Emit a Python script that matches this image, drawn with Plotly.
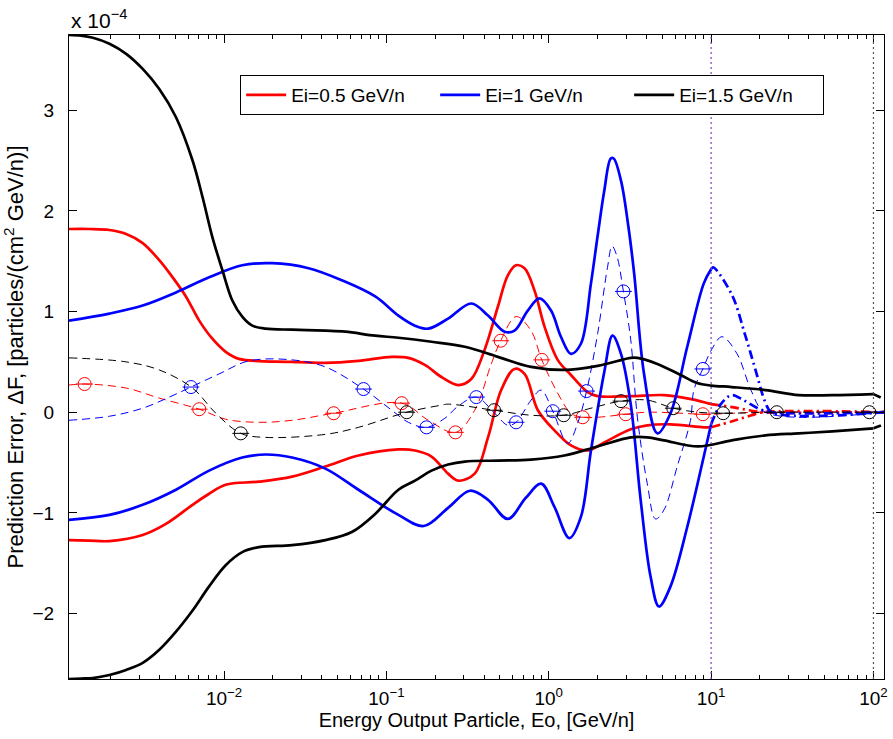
import plotly.graph_objects as go

# ---------------- data ----------------
# x values are log10(Eo [GeV/n]); y values are in units of 1e-4
bk_up_lg = [-2.955, -2.880, -2.808, -2.706, -2.603, -2.501, -2.399, -2.296, -2.194, -2.133, -2.072, -2.010, -1.949,
            -1.888, -1.826, -1.744, -1.581, -1.376, -1.253, -1.069, -0.926, -0.722, -0.517, -0.313, -0.109,
            0.096, 0.301, 0.505, 0.546, 0.669, 0.812, 0.914, 1.0, 1.127, 1.334, 1.540, 1.747, 2.0]
bk_up_y = [3.747, 3.74, 3.72, 3.66, 3.56, 3.41, 3.21, 2.93, 2.50, 2.14, 1.74, 1.41, 1.11,
           0.95, 0.86, 0.83, 0.82, 0.81, 0.80, 0.76, 0.74, 0.70, 0.65, 0.55, 0.45,
           0.42, 0.46, 0.54, 0.54, 0.48, 0.37, 0.29, 0.265, 0.25, 0.22, 0.17, 0.17, 0.18]
bk_up_ext_lg = [2.0, 2.065]
bk_up_ext_y = [0.18, 0.13]

bk_lo_lg = [-2.955, -2.880, -2.808, -2.706, -2.603, -2.501, -2.399, -2.296, -2.194, -2.092, -1.990, -1.888, -1.785,
            -1.581, -1.376, -1.213, -1.069, -0.926, -0.824, -0.722, -0.620, -0.517, -0.313, -0.109, 0.096,
            0.301, 0.505, 0.607, 0.710, 0.920, 1.127, 1.334, 1.540, 1.747, 2.0]
bk_lo_y = [-2.65, -2.645, -2.64, -2.61, -2.56, -2.49, -2.36, -2.18, -1.97, -1.73, -1.52, -1.39, -1.34,
           -1.32, -1.27, -1.19, -1.01, -0.77, -0.68, -0.58, -0.52, -0.49, -0.48, -0.47, -0.43,
           -0.34, -0.25, -0.25, -0.28, -0.34, -0.28, -0.23, -0.21, -0.19, -0.16]
bk_lo_ext_lg = [2.0, 2.065]
bk_lo_ext_y = [-0.16, -0.12]

rd_up_lg = [-2.955, -2.830, -2.706, -2.603, -2.501, -2.399, -2.317, -2.235, -2.153, -2.072, -1.990, -1.908, -1.581,
            -1.376, -1.172, -0.967, -0.865, -0.763, -0.661, -0.558, -0.477, -0.395, -0.313, -0.252, -0.201,
            -0.149, -0.088, -0.026, 0.055, 0.137, 0.239, 0.301, 0.505, 0.710, 0.877, 1.0]
rd_up_y = [1.82, 1.82, 1.81, 1.77, 1.68, 1.51, 1.34, 1.15, 0.91, 0.73, 0.60, 0.53, 0.50,
           0.49, 0.51, 0.55, 0.54, 0.47, 0.35, 0.27, 0.33, 0.62, 1.05, 1.36, 1.46,
           1.43, 1.21, 0.85, 0.52, 0.37, 0.20, 0.16, 0.16, 0.17, 0.13, 0.08]
rd_up_ext_lg = [1.0, 1.13, 1.25, 1.32, 2.065]
rd_up_ext_y = [0.08, 0.05, 0.015, 0.0, 0.0]

rd_lo_lg = [-2.955, -2.830, -2.706, -2.501, -2.358, -2.194, -2.092, -1.990, -1.785, -1.581, -1.376, -1.172, -0.926,
            -0.824, -0.722, -0.620, -0.558, -0.456, -0.374, -0.293, -0.211, -0.149, -0.067, 0.035, 0.137,
            0.239, 0.342, 0.505, 0.607, 0.750, 0.955, 1.0]
rd_lo_y = [-1.27, -1.275, -1.28, -1.22, -1.11, -0.92, -0.81, -0.72, -0.69, -0.64, -0.54, -0.43, -0.37,
           -0.38, -0.44, -0.61, -0.68, -0.61, -0.25, 0.22, 0.43, 0.38, 0.02, -0.18, -0.33,
           -0.38, -0.30, -0.17, -0.13, -0.12, -0.15, -0.15]
rd_lo_ext_lg = [1.0, 1.13, 1.25, 1.32, 2.065]
rd_lo_ext_y = [-0.15, -0.09, -0.03, 0.0, 0.0]

rd_mid_lg = [-2.955, -2.859, -2.603, -2.399, -2.153, -1.990, -1.785, -1.581, -1.325, -0.906, -0.742, -0.575,
             -0.456, -0.354, -0.296, -0.201, -0.109, -0.043, 0.055, 0.137, 0.209, 0.301, 0.474, 0.607,
             0.949, 1.0, 1.13, 1.30, 2.065]
rd_mid_y = [0.27, 0.28, 0.24, 0.14, 0.03, -0.07, -0.10, -0.08, -0.01, 0.09, -0.08, -0.20,
            0.02, 0.48, 0.71, 0.95, 0.81, 0.52, 0.19, -0.01, -0.05, -0.05, -0.02, 0.0,
            -0.02, -0.02, -0.01, 0.0, 0.0]
rd_mk_lg = [-2.859, -2.153, -1.325, -0.906, -0.575, -0.296, -0.043, 0.209, 0.474, 0.949]
rd_mk_y = [0.28, 0.03, -0.01, 0.09, -0.20, 0.71, 0.52, -0.05, -0.02, -0.02]

bl_up_lg = [-2.955, -2.706, -2.501, -2.296, -2.092, -1.888, -1.704, -1.479, -1.274, -1.069, -0.926, -0.824,
            -0.742, -0.620, -0.477, -0.374, -0.272, -0.211, -0.129, -0.057, 0.014, 0.075, 0.137, 0.198,
            0.260, 0.301, 0.342, 0.382, 0.400, 0.445, 0.490, 0.526, 0.587, 0.669, 0.750, 0.853, 0.955, 1.0]
bl_up_y = [0.91, 0.98, 1.06, 1.19, 1.34, 1.46, 1.48, 1.43, 1.31, 1.15, 0.96, 0.86,
           0.83, 0.93, 1.08, 0.96, 0.80, 0.81, 1.01, 1.13, 1.01, 0.75, 0.58, 0.68,
           1.28, 1.75, 2.20, 2.52, 2.52, 2.30, 1.85, 1.38, 0.38, -0.21, -0.01, 0.65, 1.28, 1.42]
bl_up_ext_lg = [1.0, 1.012, 1.127, 1.209, 1.270, 1.334, 1.374, 2.065]
bl_up_ext_y = [1.42, 1.44, 1.17, 0.77, 0.44, 0.10, 0.0, 0.0]

bl_lo_lg = [-2.955, -2.706, -2.501, -2.296, -2.092, -1.888, -1.744, -1.581, -1.376, -1.172, -0.926, -0.770,
            -0.620, -0.485, -0.374, -0.252, -0.141, -0.047, 0.035, 0.127, 0.198, 0.260, 0.342, 0.393,
            0.445, 0.505, 0.566, 0.628, 0.679, 0.750, 0.853, 0.955, 1.0]
bl_lo_y = [-1.07, -1.02, -0.92, -0.77, -0.58, -0.45, -0.42, -0.45, -0.56, -0.77, -1.02, -1.13,
           -0.95, -0.78, -0.87, -1.06, -0.85, -0.71, -0.94, -1.25, -1.04, -0.38, 0.40, 0.76,
           0.58, 0.08, -0.87, -1.64, -1.93, -1.73, -1.14, -0.44, -0.12]
bl_lo_ext_lg = [1.0, 1.06, 1.127, 1.20, 1.30, 1.374, 2.065]
bl_lo_ext_y = [-0.12, 0.08, 0.17, 0.12, 0.03, 0.0, 0.0]

bl_mid_lg = [-2.955, -2.706, -2.501, -2.337, -2.204, -2.031, -1.847, -1.581, -1.376, -1.141, -0.967, -0.865,
             -0.753, -0.640, -0.558, -0.446, -0.333, -0.252, -0.201, -0.109, -0.047, 0.025, 0.117, 0.178,
             0.233, 0.301, 0.362, 0.390, 0.420, 0.460, 0.505, 0.546, 0.607, 0.658, 0.710, 0.791, 0.873,
             0.894, 0.949, 1.006, 1.067, 1.160, 1.251, 1.334, 2.065]
bl_mid_y = [-0.08, -0.04, 0.04, 0.15, 0.25, 0.38, 0.51, 0.52, 0.45, 0.23, 0.02, -0.10,
            -0.15, -0.06, 0.06, 0.15, -0.01, -0.13, -0.10, 0.12, 0.22, 0.01, -0.31, -0.11,
            0.21, 0.78, 1.44, 1.65, 1.55, 1.20, 0.72, -0.05, -0.71, -1.06, -0.97, -0.54, -0.08,
            0.22, 0.43, 0.63, 0.75, 0.58, 0.20, 0.0, 0.0]
bl_mk_lg = [-2.204, -1.141, -0.753, -0.446, -0.201, 0.025, 0.233, 0.460, 0.949]
bl_mk_y = [0.25, 0.23, -0.15, 0.15, -0.10, 0.01, 0.21, 1.20, 0.43]

bk_mid_lg = [-2.955, -2.603, -2.399, -2.194, -2.051, -1.897, -1.744, -1.376, -1.172, -0.875, -0.661, -0.620,
             -0.337, -0.109, 0.092, 0.260, 0.445, 0.607, 0.767, 0.920, 1.074, 1.405, 1.975, 2.065]
bk_mid_y = [0.54, 0.50, 0.42, 0.24, -0.01, -0.21, -0.25, -0.22, -0.15, 0.00, 0.07, 0.08,
            0.02, -0.03, -0.03, 0.04, 0.11, 0.12, 0.04, 0.0, -0.01, 0.0, 0.0, 0.0]
bk_mk_lg = [-1.897, -0.875, -0.337, 0.092, 0.445, 0.767, 1.074, 1.405, 1.975]
bk_mk_y = [-0.21, 0.0, 0.02, -0.03, 0.11, 0.04, -0.01, 0.0, 0.0]

legend_names = ["Ei=0.5 GeV/n", "Ei=1 GeV/n", "Ei=1.5 GeV/n"]
x_tick_vals = [0.01, 0.1, 1, 10, 100]
x_tick_text = ["10<sup>\u22122</sup>", "10<sup>\u22121</sup>", "10<sup>0</sup>", "10<sup>1</sup>", "10<sup>2</sup>"]
y_tick_vals = [-2, -1, 0, 1, 2, 3]
y_tick_text = ["\u22122", "\u22121", "0", "1", "2", "3"]
vlines = [10, 100]

# ---------------- figure ----------------
def E(lg):
    return [10 ** v for v in lg]

RED, BLUE, BLACK = "#ff0000", "#0000ff", "#000000"
SOLID_W = 2.7
SM = 1.0
fig = go.Figure()

def add_group(color, name, up_lg, up_y, lo_lg, lo_y, upx_lg, upx_y, lox_lg, lox_y,
              mid_lg, mid_y, mk_lg, mk_y, ext_dash):
    fig.add_trace(go.Scatter(x=E(mid_lg), y=mid_y, mode="lines", showlegend=False,
                             line=dict(color=color, width=1, dash="8px,5px", shape="spline", smoothing=SM)))
    fig.add_trace(go.Scatter(x=E(upx_lg), y=upx_y, mode="lines", showlegend=False,
                             line=dict(color=color, width=SOLID_W, dash=ext_dash, shape="spline", smoothing=SM)))
    fig.add_trace(go.Scatter(x=E(lox_lg), y=lox_y, mode="lines", showlegend=False,
                             line=dict(color=color, width=SOLID_W, dash=ext_dash, shape="spline", smoothing=SM)))
    fig.add_trace(go.Scatter(x=E(up_lg), y=up_y, mode="lines", name=name, showlegend=True,
                             line=dict(color=color, width=SOLID_W, shape="spline", smoothing=SM)))
    fig.add_trace(go.Scatter(x=E(lo_lg), y=lo_y, mode="lines", showlegend=False,
                             line=dict(color=color, width=SOLID_W, shape="spline", smoothing=SM)))
    fig.add_trace(go.Scatter(x=E(mk_lg), y=mk_y, mode="markers", showlegend=False,
                             marker=dict(symbol="circle-open", size=13, color=color, line=dict(width=1, color=color))))
    fig.add_trace(go.Scatter(x=E(mk_lg), y=mk_y, mode="markers", showlegend=False,
                             marker=dict(symbol="line-ew", size=12, color=color, line=dict(width=1, color=color))))

add_group(RED, legend_names[0], rd_up_lg, rd_up_y, rd_lo_lg, rd_lo_y, rd_up_ext_lg, rd_up_ext_y,
          rd_lo_ext_lg, rd_lo_ext_y, rd_mid_lg, rd_mid_y, rd_mk_lg, rd_mk_y, "9px,4px,2px,4px")
add_group(BLUE, legend_names[1], bl_up_lg, bl_up_y, bl_lo_lg, bl_lo_y, bl_up_ext_lg, bl_up_ext_y,
          bl_lo_ext_lg, bl_lo_ext_y, bl_mid_lg, bl_mid_y, bl_mk_lg, bl_mk_y, "9px,4px,2px,4px")
add_group(BLACK, legend_names[2], bk_up_lg, bk_up_y, bk_lo_lg, bk_lo_y, bk_up_ext_lg, bk_up_ext_y,
          bk_lo_ext_lg, bk_lo_ext_y, bk_mid_lg, bk_mid_y, bk_mk_lg, bk_mk_y, "8px,5px")

fig.add_shape(type="line", xref="x", yref="paper", x0=vlines[0], x1=vlines[0], y0=0, y1=1,
              line=dict(color="#7f3fbf", width=1.2, dash="2px,3px"))
fig.add_shape(type="line", xref="x", yref="paper", x0=vlines[1], x1=vlines[1], y0=0, y1=1,
              line=dict(color="#555555", width=1.2, dash="2px,3px"))

FONT = "Liberation Sans, Arial, sans-serif"
axis_common = dict(showline=True, linecolor="black", linewidth=1, mirror="ticks", ticks="inside",
                   ticklen=8, tickwidth=1, tickcolor="black", showgrid=False, zeroline=False,
                   tickfont=dict(family=FONT, size=19, color="black"))

fig.update_layout(
    width=893, height=739,
    margin=dict(l=69, r=5, t=35, b=60),
    paper_bgcolor="white", plot_bgcolor="white",
    font=dict(family=FONT, size=19, color="black"),
    xaxis=dict(type="log", range=[-2.955, 2.065], tickmode="array", tickvals=x_tick_vals,
               ticktext=x_tick_text, ticklabelstandoff=2,
               minor=dict(ticks="inside", ticklen=4, tickcolor="black", showgrid=False,
                          tickvals=[m * 10 ** d for d in range(-3, 3) for m in range(2, 10)]),
               title=dict(text="Energy Output Particle, Eo, [GeV/n]", standoff=2,
                          font=dict(family=FONT, size=20)),
               **axis_common),
    yaxis=dict(range=[-2.65, 3.747], tickmode="array", tickvals=y_tick_vals, ticktext=y_tick_text,
               ticklabelstandoff=10,
               title=dict(text="Prediction Error, \u0394F, [particles/(cm<sup>2</sup> GeV/n)]", standoff=8,
                          font=dict(family=FONT, size=22)),
               **axis_common),
    legend=dict(orientation="h", x=0.21, y=0.938, xanchor="left", yanchor="top",
                bordercolor="black", borderwidth=1, bgcolor="white", itemwidth=40,
                font=dict(family=FONT, size=19), entrywidth=139, entrywidthmode="pixels"),
    annotations=[dict(text="x 10<sup>\u22124</sup>", xref="paper", yref="paper", x=0, y=1,
                      xanchor="left", yanchor="bottom", showarrow=False, yshift=1,
                      font=dict(family=FONT, size=21))],
)

fig.write_html("out.html")
